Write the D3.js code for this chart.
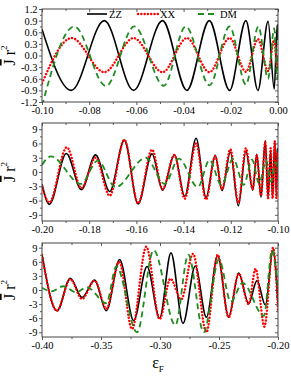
<!DOCTYPE html>
<html>
<head>
<meta charset="utf-8">
<script src="https://cdn.jsdelivr.net/npm/d3@7"></script>
<style>
  html, body { margin: 0; padding: 0; background: #fff; }
  svg { display: block; }
  text { font-family: "Liberation Serif", "Times New Roman", serif; fill: #000; }
</style>
</head>
<body>
<div id="chart"></div>
<script>
// Three stacked panels of J r^2 vs eps_F for ZZ, XX and DM couplings.
// Each series is given as its turning points [eps, value].

// panel 1: eps in [-0.10, 0.00]
const p1Zz = [[-0.1, 0.68], [-0.0876, -0.9], [-0.0736, 0.9], [-0.0612, -0.9], [-0.0489, 0.9], [-0.0386, -0.9],
  [-0.0291, 0.9], [-0.0205, -0.9], [-0.0136, 0.9], [-0.0085, -0.9], [-0.0042, 0.88], [-0.0016, -0.87],
  [-0.0003, 0.8], [0, 0.4]];
const p1Xx = [[-0.1, -0.72], [-0.0874, 0.45], [-0.0736, -0.43], [-0.0612, 0.45], [-0.0489, -0.43], [-0.0386, 0.45],
  [-0.0291, -0.43], [-0.0205, 0.45], [-0.0136, -0.42], [-0.0085, 0.42], [-0.0042, -0.4], [-0.0016, 0.4],
  [-0.0003, -0.3], [0, -0.1]];
const p1Dm = [[-0.1, -1.3], [-0.0863, 0.75], [-0.0729, -0.79], [-0.0609, 0.75], [-0.0484, -0.78], [-0.0391, 0.75],
  [-0.029, -0.77], [-0.0205, 0.75], [-0.0136, -0.75], [-0.0083, 0.75], [-0.0042, -0.6], [-0.0016, 0.7],
  [-0.0003, -0.6], [0, 0]];

// panel 2: eps in [-0.20, -0.10]
const p2Zz = [[-0.2, -2.55], [-0.1969, -6.8], [-0.1897, 3.9], [-0.1833, -3.7], [-0.1773, 3.6], [-0.1713, -4.1],
  [-0.1651, 6.7], [-0.1593, -6.7], [-0.1534, 3.8], [-0.1489, -3.8], [-0.1439, 3.6], [-0.1395, -5.1],
  [-0.1347, 7.1], [-0.1305, -5.4], [-0.1266, 3.5], [-0.1237, -3.9], [-0.1202, 4.2], [-0.1168, -7.1],
  [-0.1136, 4.4], [-0.1107, -3.8], [-0.109, 3.7], [-0.1072, -5.3], [-0.1054, 6.6], [-0.1042, -5.3],
  [-0.1031, 4.5], [-0.1023, -5.4], [-0.1014, 6.3], [-0.1007, -4], [-0.1003, 5], [-0.1, 0]];
const p2Xx = [[-0.2, -3.0], [-0.1969, -6.4], [-0.1895, 5.2], [-0.1833, -3.4], [-0.1773, 3.0], [-0.1713, -5.0],
  [-0.1651, 6.8], [-0.1593, -6.6], [-0.1534, 4.7], [-0.1489, -3.6], [-0.1439, 3.6], [-0.1395, -5.6],
  [-0.1347, 6.0], [-0.1305, -5.8], [-0.1266, 3.3], [-0.1237, -3.6], [-0.1202, 4.8], [-0.1168, -6.5],
  [-0.1136, 5.0], [-0.1107, -3.6], [-0.109, 3.5], [-0.1072, -5.0], [-0.1054, 6.3], [-0.1042, -5.5],
  [-0.1031, 5.0], [-0.1023, -5.6], [-0.1014, 6.5], [-0.1007, -5.5], [-0.1003, 4], [-0.1, -2]];
const p2Dm = [[-0.2, 1.5], [-0.1962, 3.3], [-0.1836, -2.5], [-0.1763, 2.4], [-0.1689, -3.2], [-0.1560, 3.0],
  [-0.1480, -2.5], [-0.1420, 2.8], [-0.1340, -3.2], [-0.1290, 2.5], [-0.1240, -2.7], [-0.1190, 2.8],
  [-0.1145, -2.7], [-0.1110, 2.6], [-0.1080, -2.4], [-0.1050, 2.4], [-0.1030, -2.0], [-0.1010, 2.0], [-0.1, 0]];

// panel 3: eps in [-0.40, -0.20]
const p3Zz = [[-0.4, 7.5], [-0.3873, -4.4], [-0.376, 2.5], [-0.3661, -1.6], [-0.3554, 2.1], [-0.3455, -4.4],
  [-0.3342, 6.5], [-0.3223, -6.5], [-0.311, 5.0], [-0.3003, -6.0], [-0.2907, 7.9], [-0.2805, -7.1],
  [-0.2701, 5.1], [-0.2607, -5.8], [-0.2511, 7.3], [-0.2418, -5.8], [-0.2333, 3.6], [-0.2249, -2.9],
  [-0.2178, 2.0], [-0.2107, -3.2], [-0.2042, 8.5], [-0.2, -3.0]];
const p3Xx = [[-0.4, 7.5], [-0.3873, -4.4], [-0.376, 2.3], [-0.3661, -1.9], [-0.3554, 2.0], [-0.3455, -4.0],
  [-0.3345, 6.0], [-0.3237, -8.3], [-0.3116, 9.2], [-0.3003, -6.2], [-0.2912, 2.4], [-0.282, -2.0],
  [-0.272, 7.7], [-0.2607, -9.0], [-0.2511, 7.5], [-0.2418, -5.8], [-0.2333, 3.5], [-0.2249, -3.0],
  [-0.219, 4.5], [-0.2115, -7.8], [-0.2042, 9.0], [-0.2, -4.5]];
const p3Dm = [[-0.4, 0.5], [-0.392, -0.3], [-0.382, 0.8], [-0.371, -0.5], [-0.362, 0.6], [-0.3455, -2.8],
  [-0.337, 5.0], [-0.3195, -9.0], [-0.3054, 8.5], [-0.287, -7.5], [-0.276, 7.5], [-0.263, -9.0],
  [-0.25, 6.5], [-0.24, -2.5], [-0.23, 1.5], [-0.212, -5.5], [-0.205, 8.5], [-0.2, 0]];

// ticks
const p1XTicks = [-0.10, -0.08, -0.06, -0.04, -0.02, 0.00];
const p2XTicks = [-0.20, -0.18, -0.16, -0.14, -0.12, -0.10];
const p3XTicks = [-0.40, -0.35, -0.30, -0.25, -0.20];
const p1YTicks = [1.2, 0.9, 0.6, 0.3, 0.0, -0.3, -0.6, -0.9, -1.2];
const bigYTicks = [9, 6, 3, 0, -3, -6, -9];

const seriesNames = ['ZZ', 'XX', 'DM'];

const width = 291, height = 381;
const left = 42, right = 278;

const styles = {
  ZZ: { stroke: '#000', width: 1.6, dash: null, cap: 'butt' },
  XX: { stroke: '#ff0000', width: 2.4, dash: '0.1,3.2', cap: 'round' },
  DM: { stroke: '#1e8c1e', width: 1.8, dash: '6,4', cap: 'butt' }
};

const svg = d3.select('#chart').append('svg')
  .attr('width', width)
  .attr('height', height);

function drawPanel(p, idx) {
  const x = d3.scaleLinear().domain(p.xDomain).range([left, right]);
  const y = d3.scaleLinear().domain(p.yDomain).range([p.bottom, p.top]);

  const clipId = 'clip' + idx;
  svg.append('clipPath').attr('id', clipId)
    .append('rect')
    .attr('x', left).attr('y', p.top)
    .attr('width', right - left).attr('height', p.bottom - p.top);

  const g = svg.append('g');

  // minor ticks (between majors)
  const xMinor = d3.pairs(p.xTicks).map(([a, b]) => (a + b) / 2);
  const yMinor = d3.pairs(p.yTicks).map(([a, b]) => (a + b) / 2);

  // curves
  const line = d3.line()
    .x(d => x(d[0]))
    .y(d => y(d[1]))
    .curve(d3.curveMonotoneX);

  const lines = g.append('g').attr('clip-path', `url(#${clipId})`);
  p.series.forEach((s, i) => {
    const st = styles[seriesNames[i]];
    lines.append('path')
      .datum(s)
      .attr('fill', 'none')
      .attr('stroke', st.stroke)
      .attr('stroke-width', st.width)
      .attr('stroke-dasharray', st.dash)
      .attr('stroke-linecap', st.cap)
      .attr('d', line);
  });

  const fmtX = d => d.toFixed(2);
  const fmtY = p.yFormat;

  // bottom axis
  const bottom = g.append('g')
    .attr('transform', `translate(0,${p.bottom})`)
    .call(d3.axisBottom(x).tickValues(p.xTicks).tickSize(3).tickPadding(2).tickFormat(fmtX));
  bottom.append('g').call(d3.axisBottom(x).tickValues(xMinor).tickSize(2).tickFormat(''));

  // top axis (inward ticks)
  const top = g.append('g')
    .attr('transform', `translate(0,${p.top})`)
    .call(d3.axisBottom(x).tickValues(p.xTicks).tickSize(3).tickFormat(''));
  top.append('g').call(d3.axisBottom(x).tickValues(xMinor).tickSize(2).tickFormat(''));

  // left axis
  const leftAx = g.append('g')
    .attr('transform', `translate(${left},0)`)
    .call(d3.axisLeft(y).tickValues(p.yTicks).tickSize(3).tickPadding(1.5).tickFormat(fmtY));
  leftAx.append('g').call(d3.axisLeft(y).tickValues(yMinor).tickSize(2).tickFormat(''));

  // right axis (inward ticks)
  const rightAx = g.append('g')
    .attr('transform', `translate(${right},0)`)
    .call(d3.axisLeft(y).tickValues(p.yTicks).tickSize(3).tickFormat(''));
  rightAx.append('g').call(d3.axisLeft(y).tickValues(yMinor).tickSize(2).tickFormat(''));

  g.selectAll('.domain').remove();
  g.selectAll('.tick line').attr('stroke', '#333').attr('stroke-width', 0.8);
  g.selectAll('.tick text')
    .attr('font-family', '"Liberation Serif", serif')
    .attr('font-size', 10.5)
    .attr('fill', '#000');

  // frame
  g.append('rect')
    .attr('x', left).attr('y', p.top)
    .attr('width', right - left).attr('height', p.bottom - p.top)
    .attr('fill', 'none')
    .attr('stroke', '#444')
    .attr('stroke-width', 1);

  // y label: J-bar r^2
  const cy = (p.top + p.bottom) / 2;
  const lab = g.append('text')
    .attr('transform', `translate(15,${cy}) rotate(-90)`)
    .attr('text-anchor', 'middle')
    .attr('font-size', 16);
  lab.append('tspan').style('text-decoration', 'overline').text('J');
  lab.append('tspan').text(' r');
  lab.append('tspan').attr('dy', -8).attr('font-size', 9).text('2');
}

const panels = [
  { xDomain: [-0.10, 0.00], yDomain: [-1.2, 1.2], top: 9, bottom: 102,
    xTicks: p1XTicks, yTicks: p1YTicks, yFormat: d => d.toFixed(1), series: [p1Zz, p1Xx, p1Dm] },
  { xDomain: [-0.20, -0.10], yDomain: [-10.3, 10.3], top: 123, bottom: 221,
    xTicks: p2XTicks, yTicks: bigYTicks, yFormat: d => String(d), series: [p2Zz, p2Xx, p2Dm] },
  { xDomain: [-0.40, -0.20], yDomain: [-10, 10], top: 243, bottom: 337,
    xTicks: p3XTicks, yTicks: bigYTicks, yFormat: d => String(d), series: [p3Zz, p3Xx, p3Dm] }
];

panels.forEach(drawPanel);

// legend in the top panel
const legendX = [87, 138, 198];
const legend = svg.append('g');
seriesNames.forEach((name, i) => {
  const st = styles[name];
  legend.append('line')
    .attr('x1', legendX[i]).attr('x2', legendX[i] + 20)
    .attr('y1', 14).attr('y2', 14)
    .attr('stroke', st.stroke)
    .attr('stroke-width', st.width)
    .attr('stroke-dasharray', st.dash)
    .attr('stroke-linecap', st.cap);
  legend.append('text')
    .attr('x', legendX[i] + 22).attr('y', 17.5)
    .attr('font-size', 10.5)
    .text(name);
});

// x label: eps_F
const xl = svg.append('text')
  .attr('x', 158).attr('y', 368)
  .attr('text-anchor', 'middle')
  .attr('font-size', 16);
xl.append('tspan').text('ε');
xl.append('tspan').attr('dy', 4).attr('font-size', 9).text('F');
</script>
</body>
</html>
